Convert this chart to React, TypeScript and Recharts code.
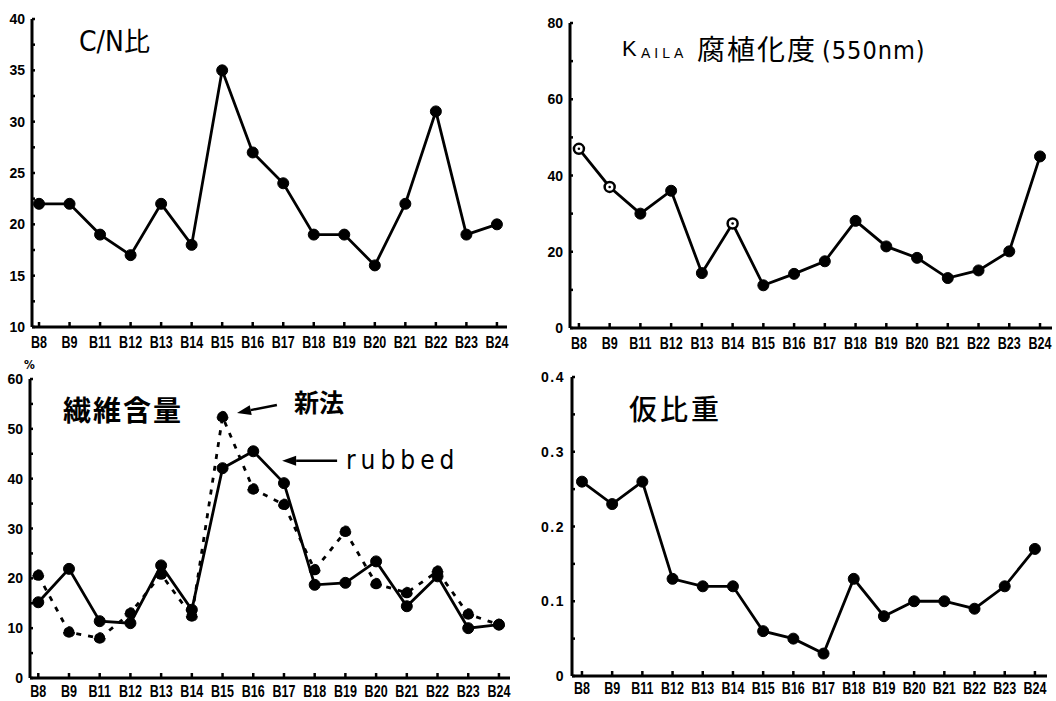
import React from 'react';
import { LineChart, Line, XAxis, YAxis, ReferenceLine } from 'recharts';

const categories = ['B8', 'B9', 'B11', 'B12', 'B13', 'B14', 'B15', 'B16', 'B17', 'B18', 'B19', 'B20', 'B21', 'B22', 'B23', 'B24'];
const cnRatio = [22, 22, 19, 17, 22, 18, 35, 27, 24, 19, 19, 16, 22, 31, 19, 20];
const kailaHumification = [47, 37, 30, 36, 14.4, 27.4, 11.2, 14.2, 17.5, 28.1, 21.4, 18.4, 13.1, 15.1, 20.1, 45];
const kailaOpenMarker = [true, true, false, false, false, true, false, false, false, false, false, false, false, false, false, false];
const fiberRubbed = [15.2, 21.9, 11.4, 11.0, 22.6, 13.7, 42.1, 45.5, 39.1, 18.7, 19.1, 23.4, 14.4, 20.4, 10.0, 10.7];
const fiberNewMethod = [20.6, 9.2, 8.0, 13.0, 20.8, 12.4, 52.4, 37.9, 34.8, 21.7, 29.4, 18.9, 17.1, 21.4, 12.8, 10.7];
const bulkDensity = [0.26, 0.23, 0.26, 0.13, 0.12, 0.12, 0.06, 0.05, 0.03, 0.13, 0.08, 0.1, 0.1, 0.09, 0.12, 0.17];

const xTicks = categories.map((_, i) => i);
const cnTicks = [10, 12.5, 15, 17.5, 20, 22.5, 25, 27.5, 30, 32.5, 35, 37.5, 40];
const kailaTicks = [0, 10, 20, 30, 40, 50, 60, 70, 80];
const fiberTicks = [0, 5, 10, 15, 20, 25, 30, 35, 40, 45, 50, 55, 60];
const densityTicks = [0, 0.05, 0.1, 0.15, 0.2, 0.25, 0.3, 0.35, 0.4];

// arrow annotations in the fibre panel: [tail, tip] in data units
const newMethodArrow = [{ x: 7.77, y: 54.8 }, { x: 6.47, y: 53.2 }];
const rubbedArrow = [{ x: 9.73, y: 43.6 }, { x: 7.94, y: 43.6 }];

const data = categories.map((name, i) => ({
  i,
  name,
  cn: cnRatio[i],
  kaila: kailaHumification[i],
  open: kailaOpenMarker[i],
  rubbed: fiberRubbed[i],
  newMethod: fiberNewMethod[i],
  density: bulkDensity[i],
}));

const NARROW = "'Liberation Sans Narrow', 'DejaVu Sans Condensed', 'Arial Narrow', sans-serif";
const WIDE = "'Liberation Sans', Arial, sans-serif";
const CJK = "'Noto Sans CJK JP', 'Noto Sans CJK SC', sans-serif";

const axisLine = { stroke: '#000', strokeWidth: 3 };
const tickLine = { stroke: '#000', strokeWidth: 2.5 };
const dotStyle = { r: 5.5, fill: '#000', stroke: '#000', strokeWidth: 1 };

// condensed bold category labels
const XTick = (p: any) => {
  const { x, y, payload } = p;
  return (
    <g transform={`translate(${x},${y})`}>
      <text transform="scale(0.76,1)" textAnchor="middle" dy="0.71em" fontFamily={WIDE} fontWeight={700} fontSize={16.5} fill="#000">
        {categories[payload.value] ?? ''}
      </text>
    </g>
  );
};

const makeYTick = (step: number, spacing = 0) => (p: any) => {
  const { x, y, payload } = p;
  const v = payload.value;
  const show = Math.abs(v / step - Math.round(v / step)) < 1e-6;
  if (!show) return <g />;
  return (
    <text x={x} y={y} dy="0.36em" textAnchor="end" fontFamily={WIDE} fontWeight={700} fontSize={14} letterSpacing={spacing} fill="#000">
      {String(Math.round(v * 100) / 100)}
    </text>
  );
};

const KailaDot = (p: any) => {
  const { cx, cy, payload, index } = p;
  if (payload.open) {
    return (
      <g key={index}>
        <circle cx={cx} cy={cy} r={5} fill="#fff" stroke="#000" strokeWidth={2.5} />
        <circle cx={cx} cy={cy} r={1.3} fill="#000" />
      </g>
    );
  }
  return <circle key={index} cx={cx} cy={cy} r={5.5} fill="#000" stroke="#000" strokeWidth={1} />;
};

const Arrow = (p: any) => {
  const { x1, y1, x2, y2 } = p;
  const ang = Math.atan2(y2 - y1, x2 - x1);
  const L = 14;
  const W = 5;
  const bx = x2 - L * Math.cos(ang);
  const by = y2 - L * Math.sin(ang);
  const pts = `${x2},${y2} ${bx + W * Math.sin(ang)},${by - W * Math.cos(ang)} ${bx - W * Math.sin(ang)},${by + W * Math.cos(ang)}`;
  return (
    <g>
      <line x1={x1} y1={y1} x2={bx} y2={by} stroke="#000" strokeWidth={2.5} />
      <polygon points={pts} fill="#000" />
    </g>
  );
};

function Txt({ x, y, size, family, weight = 400, spacing = 0, stretch = 'condensed', children }: any) {
  return (
    <div
      style={{
        position: 'absolute',
        left: x,
        top: y,
        fontSize: size,
        fontFamily: family,
        fontStretch: stretch,
        fontWeight: weight,
        letterSpacing: spacing,
        lineHeight: 1,
        whiteSpace: 'nowrap',
        color: '#000',
      }}
    >
      {children}
    </div>
  );
}

export default function App() {
  return (
    <div style={{ position: 'absolute', left: 0, top: 0, width: 1056, height: 701, background: '#fff', overflow: 'hidden' }}>
      <div style={{ position: 'absolute', left: 0, top: 0 }}>
        <LineChart width={528} height={356} data={data} margin={{ top: 19, right: 21, left: 0, bottom: 6 }}>
          <XAxis dataKey="i" type="number" domain={[-0.23, 15.33]} allowDataOverflow ticks={xTicks} interval={0}
            height={23} tick={XTick} axisLine={axisLine} tickLine={tickLine} tickSize={-5} tickMargin={14} />
          <YAxis type="number" domain={[10, 40]} allowDataOverflow ticks={cnTicks} interval={0}
            width={32} tick={makeYTick(5)} axisLine={axisLine} tickLine={tickLine} tickSize={-3} tickMargin={10} />
          <Line dataKey="cn" stroke="#000" strokeWidth={2.8} dot={dotStyle} isAnimationActive={false} />
        </LineChart>
      </div>

      <div style={{ position: 'absolute', left: 528, top: 0 }}>
        <LineChart width={528} height={356} data={data} margin={{ top: 23, right: 4, left: 0, bottom: 6 }}>
          <XAxis dataKey="i" type="number" domain={[-0.29, 15.39]} allowDataOverflow ticks={xTicks} interval={0}
            height={22} tick={XTick} axisLine={axisLine} tickLine={tickLine} tickSize={-5} tickMargin={14} />
          <YAxis type="number" domain={[0, 80]} allowDataOverflow ticks={kailaTicks} interval={0}
            width={42} tick={makeYTick(20)} axisLine={axisLine} tickLine={tickLine} tickSize={-3} tickMargin={10} />
          <Line dataKey="kaila" stroke="#000" strokeWidth={2.8} dot={KailaDot} isAnimationActive={false} />
        </LineChart>
      </div>

      <div style={{ position: 'absolute', left: 0, top: 350 }}>
        <LineChart width={528} height={351} data={data} margin={{ top: 29, right: 18, left: 0, bottom: 0 }}>
          <XAxis dataKey="i" type="number" domain={[-0.27, 15.36]} allowDataOverflow ticks={xTicks} interval={0}
            height={23} tick={XTick} axisLine={axisLine} tickLine={tickLine} tickSize={-5} tickMargin={12} />
          <YAxis type="number" domain={[0, 60]} allowDataOverflow ticks={fiberTicks} interval={0}
            width={30} tick={makeYTick(10)} axisLine={axisLine} tickLine={tickLine} tickSize={-3} tickMargin={10} />
          <Line dataKey="newMethod" stroke="#000" strokeWidth={2.8} strokeDasharray="5 7" dot={dotStyle} isAnimationActive={false} />
          <Line dataKey="rubbed" stroke="#000" strokeWidth={2.8} dot={dotStyle} isAnimationActive={false} />
          <ReferenceLine segment={newMethodArrow} shape={Arrow} ifOverflow="visible" />
          <ReferenceLine segment={rubbedArrow} shape={Arrow} ifOverflow="visible" />
        </LineChart>
      </div>

      <div style={{ position: 'absolute', left: 528, top: 350 }}>
        <LineChart width={528} height={351} data={data} margin={{ top: 27, right: 9, left: 0, bottom: 0 }}>
          <XAxis dataKey="i" type="number" domain={[-0.33, 15.4]} allowDataOverflow ticks={xTicks} interval={0}
            height={25} tick={XTick} axisLine={axisLine} tickLine={tickLine} tickSize={-5} tickMargin={11} />
          <YAxis type="number" domain={[0, 0.4]} allowDataOverflow ticks={densityTicks} interval={0}
            width={44} tick={makeYTick(0.1, 1.5)} axisLine={axisLine} tickLine={tickLine} tickSize={-3} tickMargin={10} />
          <Line dataKey="density" stroke="#000" strokeWidth={2.8} dot={dotStyle} isAnimationActive={false} />
        </LineChart>
      </div>

      <Txt x={79} y={27} size={28} family={NARROW}>C/N<span style={{ fontFamily: CJK, fontSize: 26 }}>比</span></Txt>

      <Txt x={622} y={38} size={22} family={WIDE} stretch="normal">K</Txt>
      <Txt x={641} y={46} size={14} family={WIDE} stretch="normal" spacing={4}>AILA</Txt>
      <Txt x={697} y={34} size={28} family={CJK} spacing={2}>腐植化度</Txt>
      <Txt x={822} y={38} size={25} family={NARROW} spacing={1}>(550nm)</Txt>

      <Txt x={63} y={395} size={28} family={CJK} weight={700} spacing={2}>繊維含量</Txt>
      <Txt x={24} y={359} size={12} family={NARROW} weight={700}>%</Txt>
      <Txt x={294} y={389} size={25} family={CJK} weight={700}>新法</Txt>
      <Txt x={346} y={447} size={26} family={NARROW} spacing={5}>rubbed</Txt>

      <Txt x={629} y={394} size={28} family={CJK} weight={500} spacing={3}>仮比重</Txt>
    </div>
  );
}
